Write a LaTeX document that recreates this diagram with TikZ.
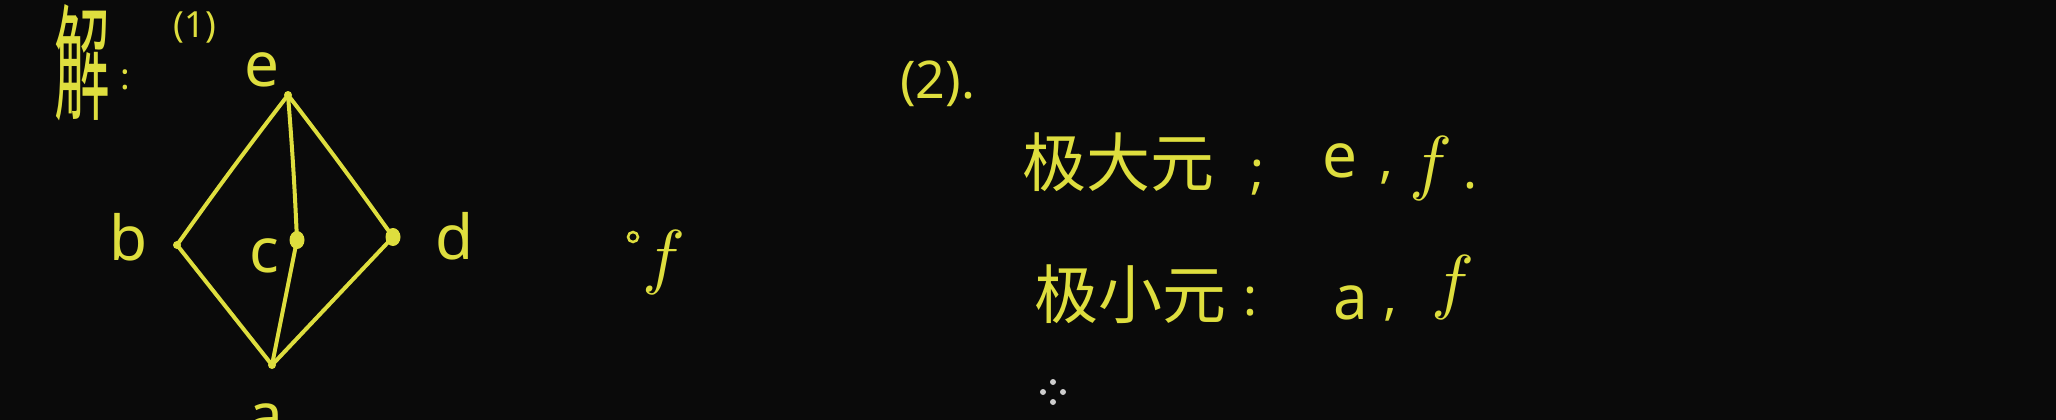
\documentclass[tikz,border=0pt]{standalone}
\usepackage{fontspec}
\usetikzlibrary{shapes.geometric}
\setmainfont{Noto Sans}
\newfontfamily\cjk{Noto Sans CJK SC}
\definecolor{ink}{RGB}{222,222,62}
\definecolor{bg}{RGB}{10,10,10}
\definecolor{cursorgray}{RGB}{205,205,205}
\newcommand{\bigf}{\scalebox{7.2}{$f$}}
\begin{document}
\begin{tikzpicture}[x=1pt,y=-1pt,
  lbl/.style={text=ink,inner sep=0pt,font=\fontsize{62}{62}\selectfont},
  big/.style={text=ink,inner sep=0pt,font=\fontsize{64}{64}\selectfont\cjk},
  mid/.style={text=ink,inner sep=0pt,font=\fontsize{52}{52}\selectfont},
  fl/.style={text=ink,inner sep=0pt},
  edge/.style={draw=ink,line width=4pt,line cap=round,line join=round},
  bigdot/.style={ellipse,fill=ink,inner sep=0pt,minimum width=15pt,minimum height=18pt},
  smalldot/.style={circle,fill=ink,inner sep=0pt,minimum size=8pt},
  ring/.style={circle,draw=ink,line width=2.5pt,inner sep=0pt,minimum size=10pt},
  curs/.style={circle,fill=cursorgray,inner sep=0pt,minimum size=6pt}]
\fill[bg] (0,0) rectangle (2056,420);
\useasboundingbox (0,0) rectangle (2056,420);
% part (1)
\node[text=ink,inner sep=0pt] (jie) at (82,63) {\scalebox{0.62}[1.4]{\fontsize{90}{90}\selectfont\cjk 解}};
\node[mid] (jiecolon) at (125,80) {\fontsize{36}{36}\selectfont :};
\node[text=ink,inner sep=0pt,font=\fontsize{36}{36}\selectfont] (one) at (195,27) {(1)};
% vertices
\node[smalldot] (e) at (288,95) {};
\node[smalldot] (b) at (177,245) {};
\node[bigdot] (c) at (297,240) {};
\node[bigdot] (d) at (393,237) {};
\node[smalldot] (a) at (272,365) {};
\node[ring] (f) at (633,237) {};
% edges
\draw[edge] (e.center) to[bend right=1] (b.center);
\draw[edge] (b.center) -- (a.center);
\draw[edge] (e.center) to[bend left=1] (d.center);
\draw[edge] (d.center) -- (a.center);
\draw[edge] (e.center) to[bend left=1] (c.center);
\draw[edge] (c.center) -- (a.center);
% vertex labels
\node[lbl] (le) at (262,70) {e};
\node[lbl] (lb) at (129,237) {b};
\node[lbl] (lc) at (264,256) {c};
\node[lbl] (ld) at (455,236) {d};
\node[lbl] (la) at (266,421) {a};
\node[fl] (lf) at (664,262) {\bigf};
% part (2)
\node[mid,anchor=west] (two) at (900,84) {(2).};
\node[big] (maxw) at (1118,162) {极大元};
\node[mid] (maxsep) at (1257,178) {;};
\node[lbl] (maxe) at (1340,161) {e};
\node[mid] (maxcomma) at (1386,178) {,};
\node[fl] (maxf) at (1431,168) {\bigf};
\node[mid] (maxdot) at (1470,186) {.};
\node[big] (minw) at (1130,294) {极小元};
\node[mid] (minsep) at (1250,302) {:};
\node[lbl] (mina) at (1351,303) {a};
\node[mid] (mincomma) at (1390,315) {,};
\node[fl] (minf) at (1453,287) {\bigf};
% cursor
\node[curs] (cu1) at (1053,382) {};
\node[curs] (cu2) at (1053,402) {};
\node[curs] (cu3) at (1043,392) {};
\node[curs] (cu4) at (1063,392) {};
\end{tikzpicture}
\end{document}
